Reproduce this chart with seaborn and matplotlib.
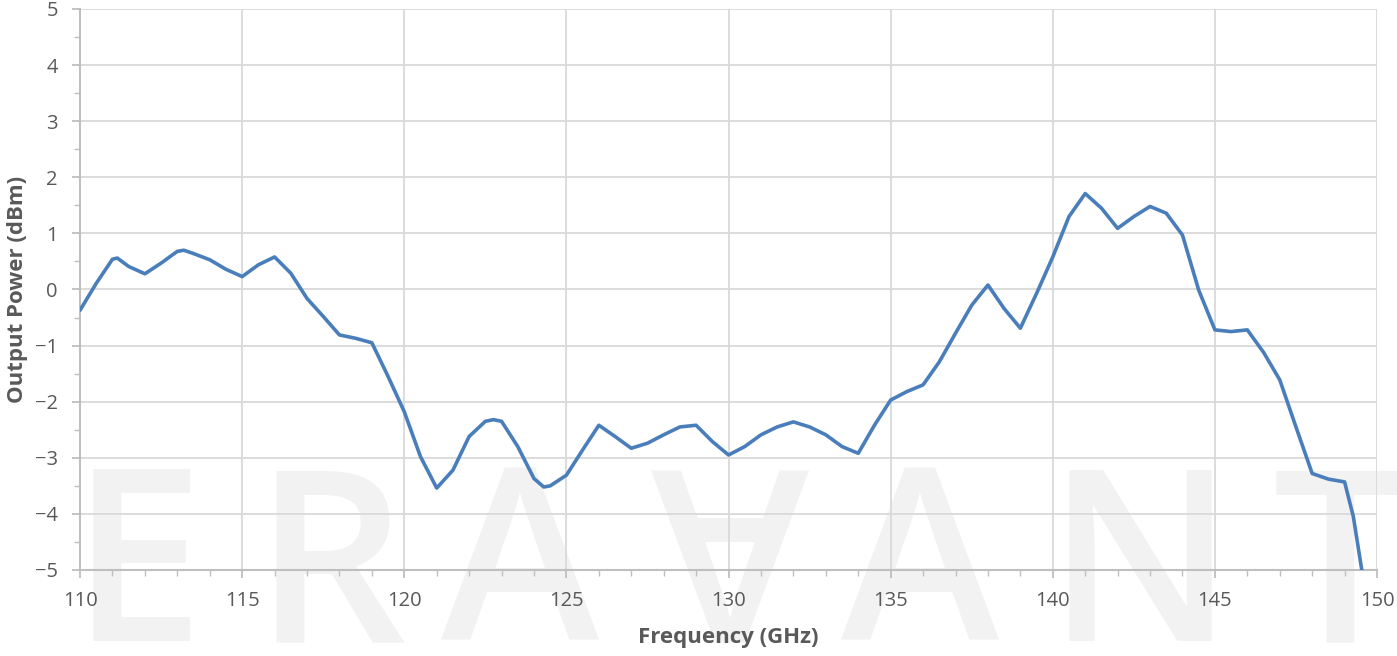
import numpy as np
import pandas as pd
import seaborn as sns
import matplotlib.pyplot as plt
from matplotlib.ticker import MultipleLocator

# values
freq_ghz = [110.0, 110.5, 111.0, 111.15, 111.5, 112.0, 112.5, 113.0, 113.2, 113.5, 114.0, 114.5,
            115.0, 115.5, 116.0, 116.5, 117.0, 117.5, 118.0, 118.5, 119.0, 119.5,
            120.0, 120.5, 121.0, 121.5, 122.0, 122.5, 122.75, 123.0, 123.5, 124.0, 124.3, 124.5,
            125.0, 125.5, 126.0, 126.5, 127.0, 127.5, 128.0, 128.5, 129.0, 129.5,
            130.0, 130.5, 131.0, 131.5, 132.0, 132.5, 133.0, 133.5, 134.0, 134.5,
            135.0, 135.5, 136.0, 136.5, 137.0, 137.5, 138.0, 138.5, 139.0, 139.5,
            140.0, 140.5, 141.0, 141.5, 142.0, 142.5, 143.0, 143.5, 144.0, 144.5,
            145.0, 145.5, 146.0, 146.5, 147.0, 147.5, 148.0, 148.5, 149.0, 149.27,
            149.53]
power_dbm = [-0.37, 0.11, 0.54, 0.56, 0.41, 0.28, 0.47, 0.68, 0.70, 0.64, 0.53, 0.36,
             0.23, 0.44, 0.58, 0.29, -0.16, -0.48, -0.81, -0.87, -0.95, -1.55,
             -2.18, -2.98, -3.54, -3.22, -2.62, -2.35, -2.32, -2.35, -2.80, -3.37, -3.52, -3.50,
             -3.31, -2.86, -2.42, -2.62, -2.83, -2.74, -2.59, -2.45, -2.42, -2.71,
             -2.95, -2.80, -2.59, -2.45, -2.36, -2.45, -2.59, -2.80, -2.92, -2.42,
             -1.97, -1.82, -1.70, -1.29, -0.78, -0.28, 0.08, -0.34, -0.69, -0.07,
             0.58, 1.30, 1.71, 1.45, 1.09, 1.30, 1.48, 1.36, 0.97, -0.01,
             -0.72, -0.75, -0.72, -1.12, -1.61, -2.45, -3.28, -3.38, -3.43, -4.05,
             -5.0]

x_ticks = [110, 115, 120, 125, 130, 135, 140, 145, 150]
y_ticks = [-5, -4, -3, -2, -1, 0, 1, 2, 3, 4, 5]

df = pd.DataFrame({"freq": freq_ghz, "power": power_dbm})

sns.set_style("white")
plt.rcParams['font.family'] = ['Open Sans', 'DejaVu Sans']

fig = plt.figure(figsize=(13.97, 6.56), dpi=100)
ax = fig.add_axes([0.0573, 0.1311, 0.9284, 0.8552])
ax.set_facecolor("none")

# watermark behind the chart
wm_color = "#f2f2f2"
letters = [("E", 137), ("R", 330), ("A", 520), ("A", 730), ("A", 920), ("N", 1140), ("T", 1340)]
for i, (ch, px) in enumerate(letters):
    if i == 3:
        fig.text(px / 1397, 1 - 467 / 656, ch, fontsize=172, color=wm_color,
                 ha="center", va="baseline", rotation=180, rotation_mode="anchor",
                 zorder=-1, family="Open Sans", fontweight="semibold")
    else:
        fig.text(px / 1397, 1 - 641 / 656, ch, fontsize=172, color=wm_color,
                 ha="center", va="baseline", zorder=-1, family="Open Sans",
                 fontweight="semibold")

sns.lineplot(data=df, x="freq", y="power", ax=ax, color="#4a7ebb", linewidth=2.6,
             estimator=None, sort=False, zorder=3)
for ln in ax.lines:
    ln.set_solid_joinstyle("round")
    ln.set_solid_capstyle("round")

ax.set_xlim(110, 150)
ax.set_ylim(-5, 5)
ax.set_xticks(x_ticks)
ax.set_yticks(y_ticks)
ax.xaxis.set_minor_locator(MultipleLocator(1))
ax.yaxis.set_minor_locator(MultipleLocator(0.5))
ax.grid(True, which="major", color="#d9d9d9", linewidth=1.3)
ax.set_axisbelow(True)

for side in ["top", "right"]:
    ax.spines[side].set_visible(False)
for side in ["left", "bottom"]:
    ax.spines[side].set_color("#bfbfbf")
    ax.spines[side].set_linewidth(1.5)

ax.tick_params(which="major", length=6, width=1.3, color="#bfbfbf",
               labelsize=14.5, labelcolor="#595959", bottom=True, left=True)
ax.tick_params(which="minor", length=4, width=1.0, color="#bfbfbf", bottom=True, left=True)
ax.tick_params(axis="x", pad=9)
ax.tick_params(axis="y", pad=10)

ax.set_xlabel("Frequency (GHz)", fontsize=16, fontweight="bold", color="#595959", labelpad=12)
ax.set_ylabel("Output Power (dBm)", fontsize=16, fontweight="bold", color="#595959", labelpad=5)

fig.savefig("out.png", dpi=100)
